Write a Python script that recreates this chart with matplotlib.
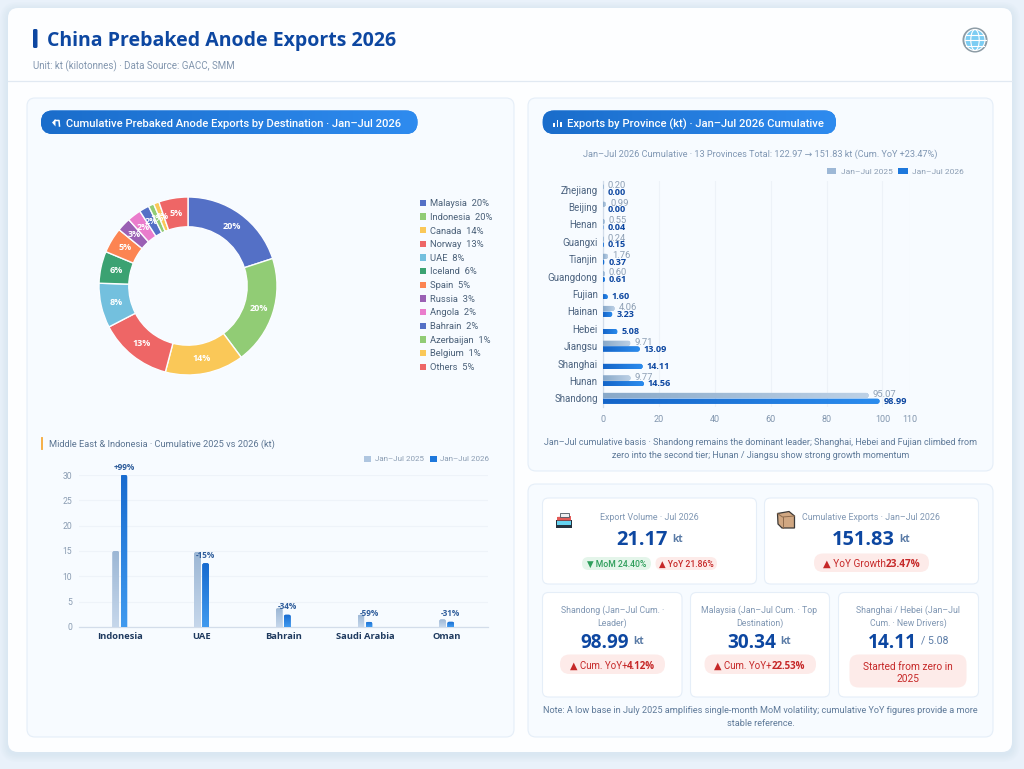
import numpy as np
import matplotlib
matplotlib.use("Agg")
import matplotlib.pyplot as plt
from matplotlib.patches import FancyBboxPatch, Rectangle, Circle, Ellipse, Polygon
from matplotlib.transforms import IdentityTransform
from matplotlib.colors import LinearSegmentedColormap

REG = ['Roboto', 'Noto Sans', 'DejaVu Sans']
BOLD = ['Open Sans', 'DejaVu Sans']
plt.rcParams['font.family'] = REG

# ---- data ----
dest_names = ['Malaysia', 'Indonesia', 'Canada', 'Norway', 'UAE', 'Iceland', 'Spain',
              'Russia', 'Angola', 'Bahrain', 'Azerbaijan', 'Belgium', 'Others']
dest_share = [20.0, 19.8, 14.3, 13.3, 8.1, 5.8, 4.6, 2.5, 2.5, 1.8, 1.0, 1.0, 5.3]
dest_labels = ['20%', '20%', '14%', '13%', '8%', '6%', '5%', '3%', '2%', '2%', '1%', '1%', '5%']
dest_colors = ['#5470c6', '#91cc75', '#fac858', '#ee6666', '#73c0de', '#3ba272', '#fc8452',
               '#9a60b4', '#ea7ccc', '#5470c6', '#91cc75', '#fac858', '#ee6666']

me_names = ['Indonesia', 'UAE', 'Bahrain', 'Saudi Arabia', 'Oman']
me_2025 = [15.0, 14.8, 3.7, 2.4, 1.5]
me_2026 = [30.0, 12.6, 2.45, 1.0, 1.05]
me_yoy = ['+99%', '-15%', '-34%', '-59%', '-31%']
me_ticks = [0, 5, 10, 15, 20, 25, 30]

prov_names = ['Zhejiang', 'Beijing', 'Henan', 'Guangxi', 'Tianjin', 'Guangdong', 'Fujian',
              'Hainan', 'Hebei', 'Jiangsu', 'Shanghai', 'Hunan', 'Shandong']
prov_2025 = [0.20, 0.99, 0.55, 0.24, 1.76, 0.60, np.nan, 4.06, np.nan, 9.71, np.nan, 9.77, 95.07]
prov_2026 = [0.00, 0.00, 0.04, 0.15, 0.37, 0.61, 1.60, 3.23, 5.08, 13.09, 14.11, 14.56, 98.99]
prov_ticks = [0, 20, 40, 60, 80, 100, 110]

W, H = 1024, 769
BLUE = '#0D47A1'
RED = '#C62828'

fig = plt.figure(figsize=(W / 100, H / 100), dpi=100, facecolor='#E9F1FA')
ov = fig.add_axes([0, 0, 1, 1], zorder=0)
ov.set_xlim(0, W)
ov.set_ylim(H, 0)
ov.axis('off')
ov.set_autoscale_on(False)
renderer = fig.canvas.get_renderer()


def pt(px):
    return px * 0.72


def fam(weight):
    return BOLD if weight == 'bold' else REG


def rbox(x0, y0, x1, y1, r, fc, ec='none', lw=0.0, z=1, alpha=None):
    p = FancyBboxPatch((x0, y0), x1 - x0, y1 - y0, boxstyle=f'round,pad=0,rounding_size={r}',
                       fc=fc, ec=ec, lw=lw, zorder=z, alpha=alpha)
    ov.add_patch(p)
    return p


def txt(x, y, s, px, color, ha='center', weight='normal', z=6):
    return ov.text(x, y, s, fontsize=pt(px), color=color, ha=ha, va='center_baseline',
                   fontweight=weight, family=fam(weight), zorder=z)


def rich(cx, y, parts, z=6):
    """parts: (string, px, color, weight, gap after)"""
    items = []
    total = 0
    for s, px, color, weight, gap in parts:
        t = ov.text(0, y, s, fontsize=pt(px), color=color, ha='left', va='center_baseline',
                    fontweight=weight, family=fam(weight), zorder=z)
        w = t.get_window_extent(renderer).width
        items.append((t, w, gap))
        total += w + gap
    x = cx - total / 2
    for t, w, gap in items:
        t.set_x(x)
        x += w + gap


def grad(colors):
    return LinearSegmentedColormap.from_list('g', colors)


def grad_fill(ax, extent, colors, clip, vertical=False, z=3):
    g = np.linspace(0, 1, 64)
    arr = g[:, None] if vertical else g[None, :]
    im = ax.imshow(arr, extent=extent, cmap=grad(colors), aspect='auto', zorder=z,
                   interpolation='bilinear', vmin=0, vmax=1)
    im.set_clip_path(clip)
    return im


def shadow(x0, y0, x1, y1, r, color, steps=4, spread=1.5, dy=1.5, alpha=0.035):
    for i in range(steps, 0, -1):
        rbox(x0 - i * spread, y0 - i * spread + dy, x1 + i * spread, y1 + i * spread + dy,
             r + i * spread, color, z=1, alpha=alpha)


# ---- page frame ----
shadow(8, 8, 1012, 752, 10, '#9DB7D6', steps=5, spread=1.6, dy=2, alpha=0.03)
rbox(8, 8, 1012, 752, 10, '#FDFEFF', z=1)
ov.plot([8, 1012], [81, 81], color='#E1E9F2', lw=0.9, zorder=2)
rbox(33, 29, 37.5, 48, 1.5, BLUE, z=3)
t = txt(47, 38.5, 'China Prebaked Anode Exports 2026', 19.5, BLUE, ha='left', weight='bold')
txt(33, 64.5, 'Unit: kt (kilotonnes) · Data Source: GACC, SMM', 9.75, '#8296AE', ha='left')

# globe icon
ov.add_patch(Circle((975, 40), 11.5, fc='#7CCDF3', ec='#8D9CA6', lw=1.5, zorder=3))
for dx in (0.42, 1.0):
    ov.add_patch(Ellipse((975, 40), 20 * dx, 21, fc='none', ec='white', lw=0.8, zorder=4))
for dy in (-5.5, 0, 5.5):
    hw = np.sqrt(max(10.5 ** 2 - dy ** 2, 0))
    ov.plot([975 - hw, 975 + hw], [40 + dy, 40 + dy], color='white', lw=0.8, zorder=4)

# ---- panels ----
for (x0, y0, x1, y1) in [(27, 98, 514, 737), (528, 98, 993, 471), (528, 484, 993, 737)]:
    rbox(x0, y0, x1, y1, 8, '#F7FBFF', ec='#E5EEF8', lw=0.8, z=1.5)

# header pills
for (x0, x1, s, tx) in [(41, 417.5, 'Cumulative Prebaked Anode Exports by Destination · Jan–Jul 2026', 65.5),
                        (542.5, 836, 'Exports by Province (kt) · Jan–Jul 2026 Cumulative', 567)]:
    shadow(x0, 110.5, x1, 134, 11.5, '#4A90E2', steps=3, spread=1.0, dy=1.5, alpha=0.07)
    p = rbox(x0, 110.5, x1, 134, 11.5, '#1E78DC', z=2)
    grad_fill(ov, [x0, x1, 134, 110.5], ['#1A6DCB', '#2E8BEF'], p, z=2.5)
    ov.text(tx, 123, s, fontsize=pt(11.25), color='white', ha='left', va='center_baseline',
            fontweight='medium', family=REG, zorder=6)

# pill icons
ov.add_patch(Polygon([[52, 122.5], [55.5, 119], [55.5, 126.5]], fc='white', zorder=6))
ov.plot([55, 59, 59.5], [120.5, 120.5, 126], color='white', lw=1.1, zorder=6)
for xb, yt in [(553, 122.5), (556.5, 119.5), (560, 121.5)]:
    ov.add_patch(Rectangle((xb, yt), 1.9, 127 - yt, fc='white', zorder=6))

# ---- donut ----
cx, cy, R = 188, 286, 89.0
pie_ax = fig.add_axes([(cx - 91) / W, 1 - (cy + 91) / H, 182 / W, 182 / H], zorder=2)
wedges, texts = pie_ax.pie(dest_share, colors=dest_colors, labels=dest_labels, startangle=90,
                           counterclock=False, radius=1.0, labeldistance=0.83,
                           wedgeprops=dict(width=0.335, edgecolor='#FBFDFF', linewidth=1.0))
for tx in texts:
    tx.set_ha('center')
    tx.set_va('center')
    tx.set_color('white')
    tx.set_fontsize(pt(9))
    tx.set_fontweight('bold')
    tx.set_family(BOLD)
lim = 91 / R
pie_ax.set_xlim(-lim, lim)
pie_ax.set_ylim(-lim, lim)
pie_ax.patch.set_alpha(0)

leg_labels = [f'{n}  {p}' for n, p in zip(dest_names, dest_labels)]
leg = pie_ax.legend(wedges, leg_labels, loc='upper left', bbox_to_anchor=(419.5, 199.2),
                    bbox_transform=ov.transData, frameon=False, fontsize=pt(9.4), borderpad=0,
                    borderaxespad=0, handlelength=0.65, handleheight=0.65, handletextpad=0.5,
                    labelspacing=0.495, labelcolor='#4A6078')
for h in leg.legend_handles:
    h.set_edgecolor('none')
    h.set_linewidth(0)

# ---- grouped columns ----
rbox(41, 437, 43, 450, 0.5, '#F5B14C', z=3)
txt(49, 443.5, 'Middle East & Indonesia · Cumulative 2025 vs 2026 (kt)', 9.3, '#5C7592', ha='left')

x0, x1, ytop, ybot = 79, 487.5, 475, 627
ax = fig.add_axes([x0 / W, 1 - ybot / H, (x1 - x0) / W, (ybot - ytop) / H], zorder=2)
ax.patch.set_alpha(0)
ax.set_xlim(-0.5, 4.5)
ax.set_ylim(0, 30)
ax.set_autoscale_on(False)
ax.set_yticks(me_ticks)
ax.set_xticks(range(len(me_names)))
ax.set_xticklabels(me_names, fontsize=pt(9.4), fontweight='bold', family=BOLD, color='#1F3A5F')
ax.tick_params(axis='x', length=0, pad=3.5)
ax.tick_params(axis='y', length=0, pad=5, labelsize=pt(8.6), labelcolor='#8A9CB2')
ax.grid(axis='y', color='#EEF3F9', lw=0.8)
ax.set_axisbelow(True)
for s in ('top', 'right', 'left'):
    ax.spines[s].set_visible(False)
ax.spines['bottom'].set_color('#D3DDEA')
ax.spines['bottom'].set_linewidth(0.9)


def round_clip(a, bx0, by0, bx1, by1, r):
    (px0, py0), (px1, py1) = a.transData.transform([(bx0, by0), (bx1, by1)])
    xa, xb = sorted((px0, px1))
    ya, yb = sorted((py0, py1))
    r = min(r, (xb - xa) / 2, (yb - ya) / 2)
    p = FancyBboxPatch((xa, ya), xb - xa, yb - ya, boxstyle=f'round,pad=0,rounding_size={r}',
                       transform=IdentityTransform())
    return p


bw, off = 0.082, 0.05
idx = np.arange(len(me_names))
b25 = ax.bar(idx - off, me_2025, bw, color='#AFC6E0', zorder=3, label='Jan–Jul 2025')
b26 = ax.bar(idx + off, me_2026, bw, color='#1E78DC', zorder=3, label='Jan–Jul 2026')
for bars, cols in ((b25, ['#C6D7EB', '#9CB7D5']), (b26, ['#409AEF', '#186BCF'])):
    for b in bars:
        bx0, bx1 = b.get_x(), b.get_x() + b.get_width()
        clip = round_clip(ax, bx0, -1, bx1, b.get_height(), 2)
        b.set_clip_path(clip)
        grad_fill(ax, [bx0, bx1, 0, b.get_height()], cols[::-1], clip, vertical=True, z=3.2)
for i, s in enumerate(me_yoy):
    ax.annotate(s, (i + off, me_2026[i]), xytext=(0, pt(8)), textcoords='offset points',
                ha='center', va='center', fontsize=pt(8.2), fontweight='bold', family=BOLD,
                color='#2F5D9B', annotation_clip=False, zorder=5)
ax.legend(handles=[b25, b26], loc='center right', bbox_to_anchor=(489.5, 459), bbox_transform=ov.transData,
          ncols=2, frameon=False, fontsize=pt(8.0), labelcolor='#8A9CB2', borderpad=0, borderaxespad=0,
          handlelength=0.85, handleheight=0.75, handletextpad=0.5, columnspacing=0.75)

# ---- provinces ----
txt(760, 153.5, 'Jan–Jul 2026 Cumulative · 13 Provinces Total: 122.97 → 151.83 kt (Cum. YoY +23.47%)',
    9.2, '#8097B3')
x0, x1, ytop, ybot = 603.3, 910.3, 181, 407
ax2 = fig.add_axes([x0 / W, 1 - ybot / H, (x1 - x0) / W, (ybot - ytop) / H], zorder=2)
ax2.patch.set_alpha(0)
ax2.set_xlim(0, 110)
ax2.set_ylim(12.5, -0.5)
ax2.set_autoscale_on(False)
ax2.set_xticks(prov_ticks)
ax2.set_yticks(range(len(prov_names)))
ax2.set_yticklabels(prov_names, fontsize=pt(9.8), color='#4D6480')
ax2.tick_params(axis='y', length=0, pad=4)
ax2.tick_params(axis='x', length=0, pad=6, labelsize=pt(9), labelcolor='#8296AE')
ax2.grid(axis='x', color='#EDF2F8', lw=0.8)
ax2.set_axisbelow(True)
for s in ('top', 'right', 'bottom'):
    ax2.spines[s].set_visible(False)
ax2.spines['left'].set_color('#D3DDEA')
ax2.spines['left'].set_linewidth(0.9)

bh, yo = 0.30, 0.165
yy = np.arange(len(prov_names))
p25 = ax2.barh(yy - yo, np.nan_to_num(prov_2025), bh, color='#9DB8D6', zorder=3, label='Jan–Jul 2025')
p26 = ax2.barh(yy + yo, prov_2026, bh, color='#1E78DC', zorder=3, label='Jan–Jul 2026')
for bars, cols in ((p25, ['#89A9C9', '#BDD1E6']), (p26, ['#1565C8', '#2B8CEE'])):
    for b in bars:
        w = b.get_width()
        if w <= 0:
            continue
        by, bhh = b.get_y(), b.get_height()
        clip = round_clip(ax2, -1.0, by, w, by + bhh, 3)
        b.set_clip_path(clip)
        grad_fill(ax2, [0, max(w, 0.01), by + bhh, by], cols, clip, z=3.2)
for i, (a, c) in enumerate(zip(prov_2025, prov_2026)):
    if not np.isnan(a):
        ax2.annotate(f'{a:.2f}', (a, i - yo - 0.05), xytext=(pt(4), 0), textcoords='offset points',
                     ha='left', va='center', fontsize=pt(9.4), color='#8D9FB4', zorder=5)
    ax2.annotate(f'{c:.2f}', (c, i + yo), xytext=(pt(4), 0), textcoords='offset points',
                 ha='left', va='center', fontsize=pt(9.2), color=BLUE, fontweight='bold',
                 family=BOLD, zorder=5)
ax2.legend(handles=[p25, p26], loc='center right', bbox_to_anchor=(963.5, 171.5), bbox_transform=ov.transData,
           ncols=2, frameon=False, fontsize=pt(8.4), labelcolor='#8A9CB2', borderpad=0, borderaxespad=0,
           handlelength=1.1, handleheight=0.65, handletextpad=0.5, columnspacing=0.7)

txt(760.5, 441.5, 'Jan–Jul cumulative basis · Shandong remains the dominant leader; Shanghai, Hebei and Fujian climbed from',
    9.05, '#5F7A99')
txt(760.5, 454.5, 'zero into the second tier; Hunan / Jiangsu show strong growth momentum', 9.05, '#5F7A99')

# ---- KPI cards ----
for (a, b, c, d) in [(542.5, 498, 756.5, 584), (764.5, 498, 978.5, 584),
                     (542.5, 592.5, 682, 697), (690.5, 592.5, 829.5, 697), (838.5, 592.5, 978.5, 697)]:
    rbox(a, b, c, d, 6, 'white', ec='#E5EEF8', lw=0.8, z=2)

# ship icon
ov.add_patch(Polygon([[555.5, 520], [572, 520], [572, 528], [555.5, 528]], fc='#25323F', zorder=3))
ov.add_patch(Rectangle((557, 520.5), 14, 4.5, fc='#65D3F1', zorder=4))
ov.add_patch(Polygon([[557, 517], [571, 516], [571, 520.5], [557, 520.5]], fc='#E25A57', zorder=4))
ov.add_patch(Rectangle((560, 513), 9, 3.5, fc='#EDEFF2', ec='#4A5560', lw=0.6, zorder=4))
# box icon
ov.add_patch(Polygon([[777.5, 513.5], [789, 511.5], [794.5, 516], [794.5, 528], [782, 528], [778, 524]],
                     fc='#D0A782', ec='#3C3A38', lw=0.9, zorder=3))
ov.plot([777.5, 782.5, 794.5], [513.5, 517, 516], color='#8F6C4E', lw=0.7, zorder=4)
ov.plot([782.5, 782.5], [517, 528], color='#8F6C4E', lw=0.7, zorder=4)

txt(649.5, 517, 'Export Volume · Jul 2026', 8.9, '#8097B3')
rich(649.5, 537.5, [('21.17', 20, BLUE, 'bold', 4), ('kt', 10, '#5A7BA6', 'bold', 0)])
rbox(582, 557, 651, 570, 6.5, '#E4F5EA', z=3)
txt(616.5, 563.5, '▼ MoM 24.40%', 8.6, '#2E9E5B', weight='medium')
rbox(655.5, 557, 717, 570, 6.5, '#FDEBE9', z=3)
txt(686.2, 563.5, '▲ YoY 21.86%', 8.6, RED, weight='medium')

txt(871, 517, 'Cumulative Exports · Jan–Jul 2026', 8.9, '#8097B3')
rich(871, 537.5, [('151.83', 20, BLUE, 'bold', 4), ('kt', 10, '#5A7BA6', 'bold', 0)])
rbox(814, 553.5, 929, 572, 9, '#FDEBE9', z=3)
rich(871.5, 563, [('▲ YoY Growth', 10, RED, 'normal', 0), ('23.47%', 10, RED, 'bold', 0)])

# lower cards
lc = [612.3, 759.5, 908.3]
t1 = [('Shandong (Jan–Jul Cum. ·', 'Leader)'), ('Malaysia (Jan–Jul Cum. · Top', 'Destination)'),
      ('Shanghai / Hebei (Jan–Jul', 'Cum. · New Drivers)')]
for c, (a, b) in zip(lc, t1):
    txt(c, 609, a, 8.8, '#8097B3')
    txt(c, 621.8, b, 8.8, '#8097B3')
rich(lc[0], 640, [('98.99', 19, BLUE, 'bold', 4), ('kt', 10, '#5A7BA6', 'bold', 0)])
rich(lc[1], 640, [('30.34', 19, BLUE, 'bold', 4), ('kt', 10, '#5A7BA6', 'bold', 0)])
rich(lc[2], 640, [('14.11', 19, BLUE, 'bold', 4), ('/ 5.08', 10.5, '#5A7BA6', 'normal', 0)])
rbox(560, 654.5, 665, 674, 9.5, '#FDEBE9', z=3)
rich(612.5, 665, [('▲ Cum. YoY+', 9.8, RED, 'normal', 0), ('4.12%', 9.8, RED, 'bold', 0)])
rbox(704.5, 654.5, 816, 674, 9.5, '#FDEBE9', z=3)
rich(760, 665, [('▲ Cum. YoY+', 9.8, RED, 'normal', 0), ('22.53%', 9.8, RED, 'bold', 0)])
rbox(849.5, 654.5, 966.5, 687.5, 9, '#FDEBE9', z=3)
txt(908, 665.5, 'Started from zero in', 10.1, RED)
txt(908, 678.5, '2025', 10.1, RED)

txt(760.5, 709.5, 'Note: A low base in July 2025 amplifies single-month MoM volatility; cumulative YoY figures provide a more',
    9.1, '#5F7A99')
txt(760.5, 722.3, 'stable reference.', 9.1, '#5F7A99')

fig.savefig('out.png', dpi=100, facecolor=fig.get_facecolor())
